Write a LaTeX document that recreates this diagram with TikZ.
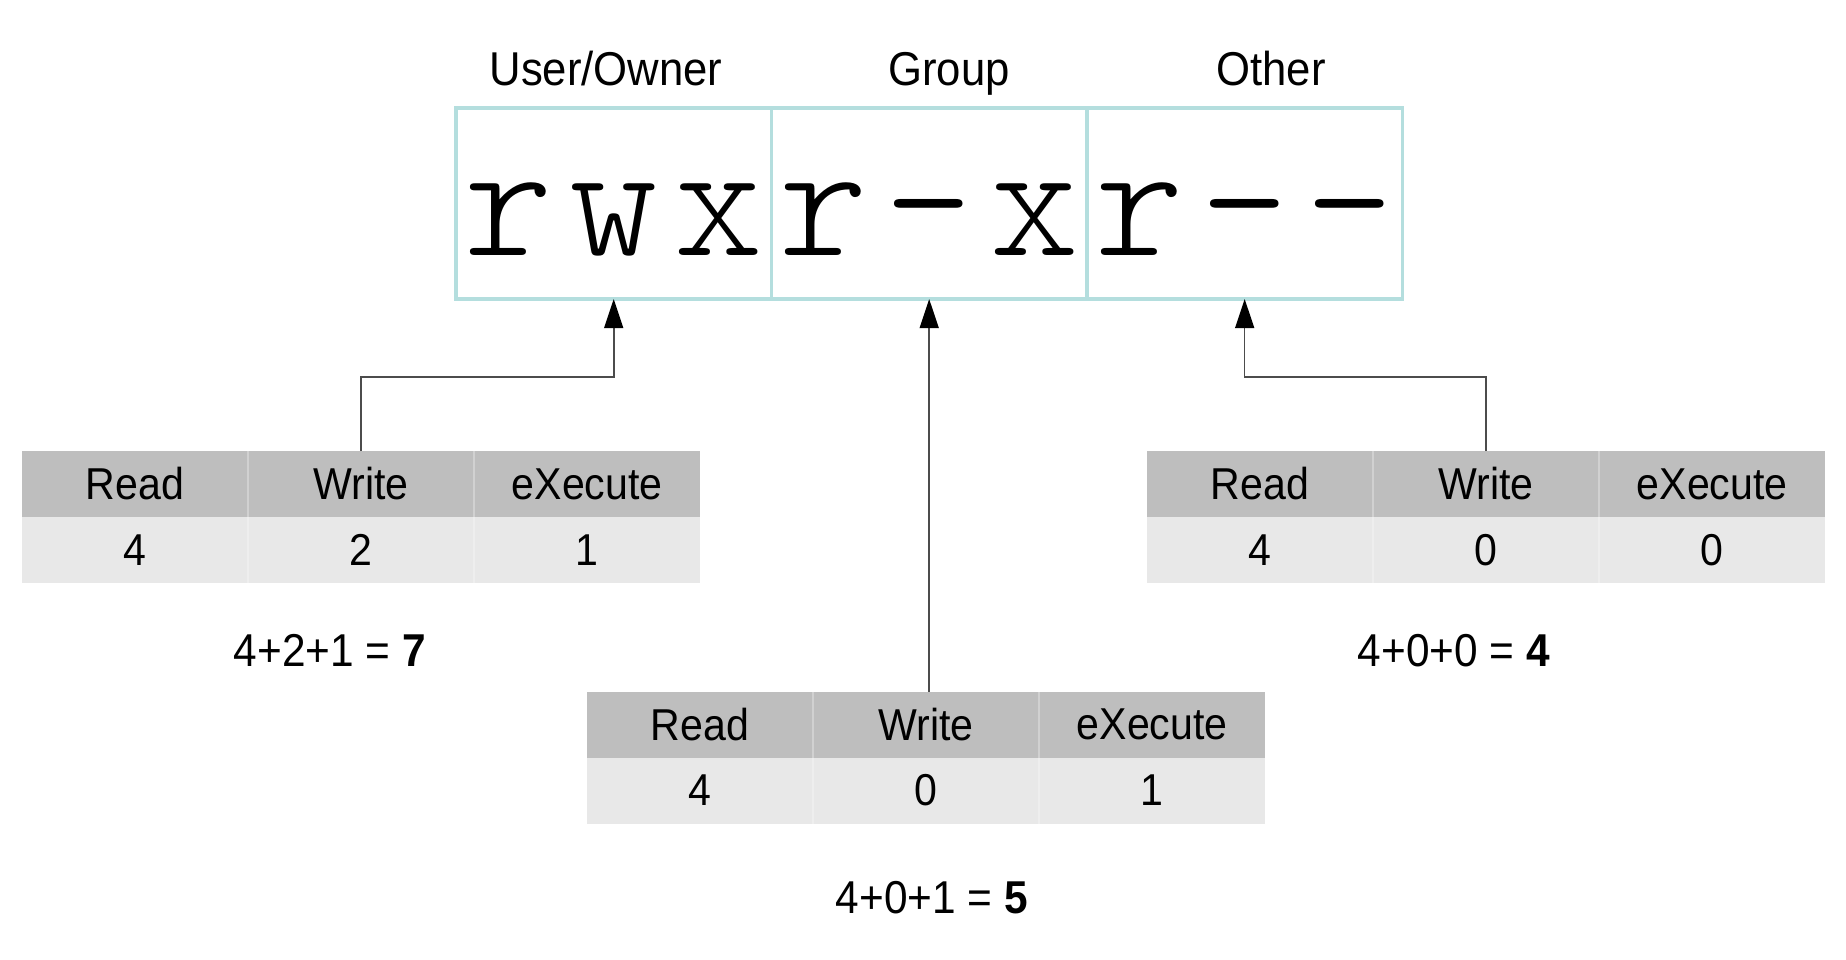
\documentclass[tikz,border=0pt]{standalone}
\usepackage{fontspec}
\setmainfont{Liberation Sans}[FakeStretch=0.92]
\newfontfamily\permmono{Latin Modern Mono Light}[LetterSpace=9.8]
\usetikzlibrary{positioning,arrows.meta}
\definecolor{permline}{HTML}{B4DEDE}
\definecolor{headgray}{HTML}{BEBEBE}
\definecolor{cellgray}{HTML}{E8E8E8}
\begin{document}
\begin{tikzpicture}[x=0.01cm, y=-0.01cm,
    permcell/.style={draw=permline, line width=1pt, minimum width=3.153cm, minimum height=1.91cm, inner sep=0pt, outer sep=0pt, text height=29.6pt, text depth=0pt, font=\permmono\fontsize{48}{48}\selectfont},
    headcell/.style={fill=headgray, minimum width=2.26cm, minimum height=0.66cm, inner sep=0pt, outer sep=0pt, font=\fontsize{12.7}{14}\selectfont},
    valcell/.style={fill=cellgray, minimum width=2.26cm, minimum height=0.66cm, inner sep=0pt, outer sep=0pt, font=\fontsize{12.7}{14}\selectfont},
    grouplabel/.style={anchor=base, font=\fontsize{13.5}{15}\selectfont},
    sumtext/.style={anchor=base, font=\fontsize{13.1}{15}\selectfont},
    colsep/.style={draw=white, opacity=0.3, line width=0.5pt},
    link/.style={draw=black!70, line width=0.45pt},
    >={Triangle[length=0.29cm, width=0.19cm, color=black]}]
    \useasboundingbox (0,0) rectangle (1846,959);

    \node[permcell] (user) at (613.7,203.5) {rwx};
    \node[permcell, right=0pt of user] (group) {r-x};
    \node[permcell, right=0pt of group] (other) {r--};
    \node[grouplabel] (userlbl) at (606,85) {User/Owner};
    \node[grouplabel] (grouplbl) at (949,85) {Group};
    \node[grouplabel] (otherlbl) at (1271,85) {Other};

    \node[headcell] (lwrite) at (361,484) {Write};
    \node[headcell, left=0pt of lwrite] (lread) {Read};
    \node[headcell, right=0pt of lwrite] (lexec) {eXecute};
    \node[valcell, below=0pt of lread] (lread4) {4};
    \node[valcell, below=0pt of lwrite] (lwrite2) {2};
    \node[valcell, below=0pt of lexec] (lexec1) {1};
    \draw[colsep] (lread.north east) -- (lread4.south east);
    \draw[colsep] (lwrite.north east) -- (lwrite2.south east);
    \node[sumtext] (lsum) at (330,666) {4+2+1 = \textbf{7}};

    \node[headcell] (mwrite) at (926,724.5) {Write};
    \node[headcell, left=0pt of mwrite] (mread) {Read};
    \node[headcell, right=0pt of mwrite] (mexec) {eXecute};
    \node[valcell, below=0pt of mread] (mread4) {4};
    \node[valcell, below=0pt of mwrite] (mwrite0) {0};
    \node[valcell, below=0pt of mexec] (mexec1) {1};
    \draw[colsep] (mread.north east) -- (mread4.south east);
    \draw[colsep] (mwrite.north east) -- (mwrite0.south east);
    \node[sumtext] (msum) at (932,913.6) {4+0+1 = \textbf{5}};

    \node[headcell] (rwrite) at (1486,484) {Write};
    \node[headcell, left=0pt of rwrite] (rread) {Read};
    \node[headcell, right=0pt of rwrite] (rexec) {eXecute};
    \node[valcell, below=0pt of rread] (rread4) {4};
    \node[valcell, below=0pt of rwrite] (rwrite0) {0};
    \node[valcell, below=0pt of rexec] (rexec0) {0};
    \draw[colsep] (rread.north east) -- (rread4.south east);
    \draw[colsep] (rwrite.north east) -- (rwrite0.south east);
    \node[sumtext] (rsum) at (1454,666) {4+0+0 = \textbf{4}};

    \draw[link, ->] (lwrite.north) -- ++(0,-74) -| (user.south);
    \draw[link, ->] (group.south |- mwrite.north) -- (group.south);
    \draw[link, ->] (rwrite.north) -- ++(0,-74) -| (other.south);
\end{tikzpicture}
\end{document}
